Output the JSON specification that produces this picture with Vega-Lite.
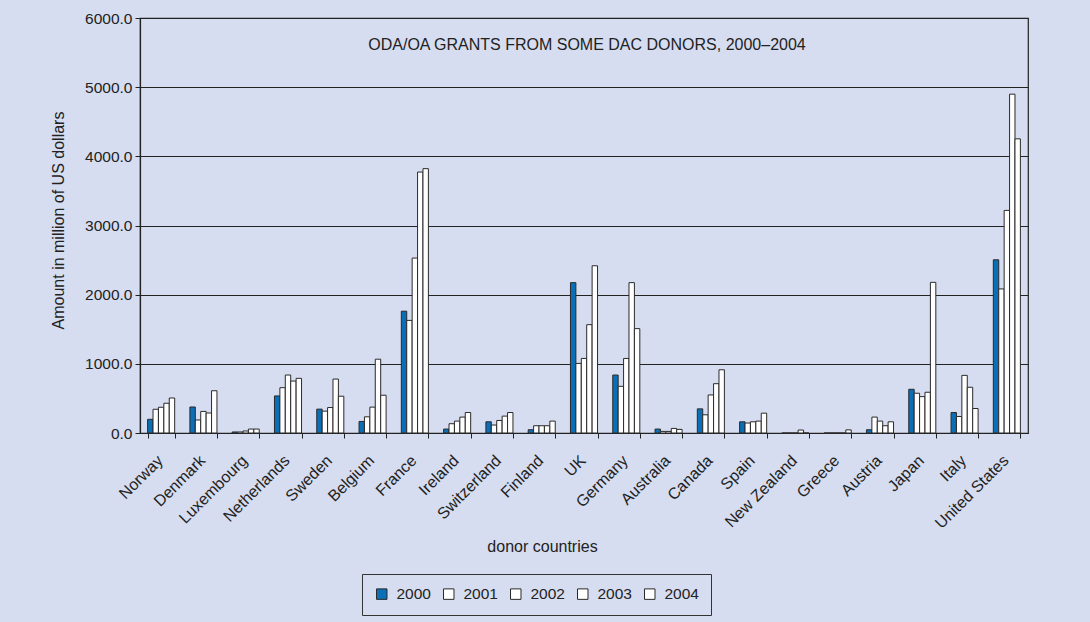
{
  "$schema": "https://vega.github.io/schema/vega-lite/v6.json",
  "autosize": {"type": "none"},
  "width": 888,
  "height": 415,
  "padding": {"left": 140, "top": 18, "right": 62, "bottom": 189},
  "background": "#d6ddf0",
  "title": {
    "text": "ODA/OA GRANTS FROM SOME DAC DONORS, 2000–2004",
    "orient": "top",
    "anchor": "middle",
    "frame": "group",
    "offset": -50,
    "baseline": "middle",
    "dx": 3,
    "font": "Liberation Sans",
    "fontSize": 16,
    "fontWeight": "normal",
    "color": "#222"
  },
  "config": {
    "font": "Liberation Sans",
    "view": {"stroke": "#222", "strokeWidth": 1.2, "fill": "#d6ddf0"},
    "axis": {
      "labelFont": "Liberation Sans",
      "titleFont": "Liberation Sans",
      "labelColor": "#222",
      "titleColor": "#222",
      "domainColor": "#222",
      "tickColor": "#222",
      "labelFontSize": 15.5,
      "titleFontSize": 16,
      "titleFontWeight": "normal"
    },
    "legend": {"labelFont": "Liberation Sans", "labelColor": "#222"}
  },
  "data": {
    "values": [
      {"country": "Norway", "2000": 198, "2001": 343, "2002": 372, "2003": 430, "2004": 506},
      {"country": "Denmark", "2000": 376, "2001": 188, "2002": 312, "2003": 289, "2004": 611},
      {"country": "Luxembourg", "2000": 15, "2001": 15, "2002": 29, "2003": 57, "2004": 57},
      {"country": "Netherlands", "2000": 536, "2001": 655, "2002": 838, "2003": 751, "2004": 790},
      {"country": "Sweden", "2000": 345, "2001": 316, "2002": 368, "2003": 780, "2004": 532},
      {"country": "Belgium", "2000": 167, "2001": 234, "2002": 374, "2003": 1067, "2004": 546},
      {"country": "France", "2000": 1761, "2001": 1628, "2002": 2529, "2003": 3773, "2004": 3822},
      {"country": "Ireland", "2000": 57, "2001": 134, "2002": 172, "2003": 230, "2004": 296},
      {"country": "Switzerland", "2000": 162, "2001": 115, "2002": 181, "2003": 244, "2004": 296},
      {"country": "Finland", "2000": 47, "2001": 105, "2002": 105, "2003": 105, "2004": 172},
      {"country": "UK", "2000": 2174, "2001": 1006, "2002": 1078, "2003": 1566, "2004": 2418},
      {"country": "Germany", "2000": 838, "2001": 675, "2002": 1078, "2003": 2174, "2004": 1509},
      {"country": "Australia", "2000": 57, "2001": 23, "2002": 23, "2003": 66, "2004": 52},
      {"country": "Canada", "2000": 349, "2001": 263, "2002": 550, "2003": 713, "2004": 914},
      {"country": "Spain", "2000": 162, "2001": 144, "2002": 162, "2003": 172, "2004": 287},
      {"country": "New Zealand", "2000": 0, "2001": 0, "2002": 0, "2003": 43, "2004": 0},
      {"country": "Greece", "2000": 0, "2001": 0, "2002": 0, "2003": 0, "2004": 45},
      {"country": "Austria", "2000": 47, "2001": 230, "2002": 172, "2003": 105, "2004": 162},
      {"country": "Japan", "2000": 632, "2001": 575, "2002": 526, "2003": 589, "2004": 2178},
      {"country": "Italy", "2000": 296, "2001": 239, "2002": 833, "2003": 661, "2004": 354},
      {"country": "United States", "2000": 2504, "2001": 2083, "2002": 3218, "2003": 4899, "2004": 4253}
    ]
  },
  "transform": [
    {"fold": ["2000", "2001", "2002", "2003", "2004"], "as": ["year", "amount"]}
  ],
  "mark": {"type": "bar", "stroke": "#2a2a2a", "strokeWidth": 1},
  "encoding": {
    "x": {
      "field": "country",
      "type": "nominal",
      "sort": null,
      "scale": {"paddingInner": 0.36, "paddingOuter": 0.18},
      "axis": {
        "title": "donor countries",
        "labelAngle": -45,
        "labelFontSize": 16,
        "labelPadding": 14,
        "labelOffset": -7,
        "tickBand": "extent",
        "tickSize": 5,
        "domainWidth": 1.2,
        "titleX": 402,
        "titleY": 113,
        "titleAlign": "center",
        "titleBaseline": "middle"
      }
    },
    "xOffset": {
      "field": "year",
      "type": "nominal",
      "scale": {"paddingInner": 0, "paddingOuter": 0}
    },
    "y": {
      "field": "amount",
      "type": "quantitative",
      "scale": {"domain": [0, 6000], "nice": false},
      "axis": {
        "title": "Amount in million of US dollars",
        "values": [0, 1000, 2000, 3000, 4000, 5000, 6000],
        "format": ".1f",
        "grid": true,
        "gridColor": "#222",
        "gridWidth": 1.2,
        "tickSize": 5,
        "labelPadding": 3,
        "domainWidth": 1.2,
        "titleX": -82,
        "titleY": 202,
        "titleAlign": "center",
        "titleBaseline": "middle",
        "titleAngle": -90
      }
    },
    "color": {
      "field": "year",
      "type": "nominal",
      "scale": {"domain": ["2000", "2001", "2002", "2003", "2004"], "range": ["#0a6fb6", "#ffffff", "#ffffff", "#ffffff", "#ffffff"]},
      "legend": {
        "title": null,
        "orient": "none",
        "legendX": 222,
        "legendY": 556,
        "direction": "horizontal",
        "strokeColor": "#333",
        "padding": 12,
        "symbolType": "square",
        "symbolSize": 110,
        "symbolStrokeColor": "#2a2a2a",
        "symbolStrokeWidth": 1,
        "labelFontSize": 15.5,
        "labelOffset": 7,
        "columnPadding": 10
      }
    }
  }
}
